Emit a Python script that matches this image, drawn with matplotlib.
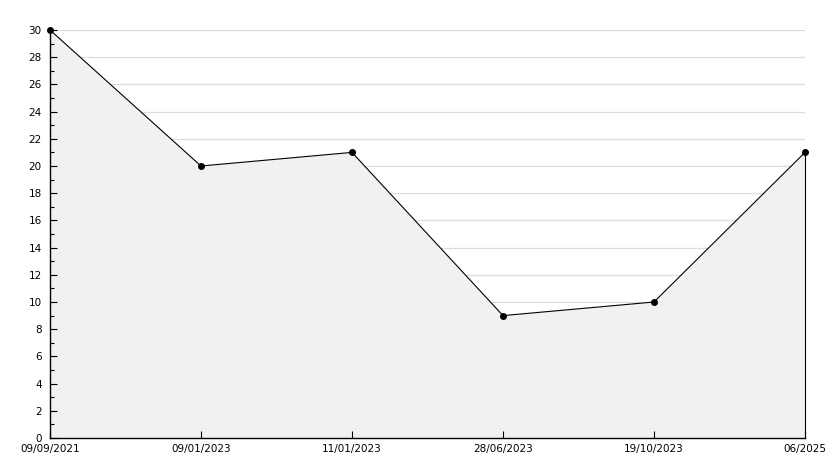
import matplotlib
matplotlib.use("Agg")
import matplotlib.pyplot as plt
from matplotlib.ticker import MultipleLocator

labels = ["09/09/2021", "09/01/2023", "11/01/2023", "28/06/2023", "19/10/2023", "06/2025"]
values = [30, 20, 21, 9, 10, 21]

fig = plt.figure(figsize=(8.34, 4.68), dpi=100)
ax = fig.add_axes([50/834, 1-438/468, (805-50)/834, (438-30)/468])
x = list(range(len(values)))

ax.set_axisbelow(False)
ax.fill_between(x, values, 0, color="#f1f1f1", zorder=1, linewidth=0)
ax.plot([x[-1], x[-1]], [0, values[-1]], color="black", linewidth=0.8, zorder=3, clip_on=False)
ax.plot(x, values, color="black", linewidth=0.8, marker="o", markersize=4,
        markerfacecolor="black", markeredgecolor="black", zorder=4, clip_on=False)

ax.set_xlim(0, len(values) - 1)
ax.set_ylim(0, 30)
ax.yaxis.set_major_locator(MultipleLocator(2))
ax.yaxis.set_minor_locator(MultipleLocator(1))
ax.set_xticks(x)
ax.set_xticklabels(labels)

for yv in ax.get_yticks():
    if 0 < yv <= 30:
        ax.axhline(yv, color="#dddddd", linewidth=0.9, zorder=0.2)

for s in ["top", "right"]:
    ax.spines[s].set_visible(False)
for s in ["left", "bottom"]:
    ax.spines[s].set_linewidth(1.0)
    ax.spines[s].set_color("black")
    ax.spines[s].set_zorder(5)

ax.tick_params(axis="y", which="major", direction="in", length=5, width=0.8, labelsize=7.5, pad=6)
ax.tick_params(axis="y", which="minor", direction="in", length=3, width=0.8)
ax.tick_params(axis="x", which="major", direction="in", length=5, width=0.8, labelsize=7.5, pad=4)

fig.savefig("out.png", dpi=100, facecolor="white")
